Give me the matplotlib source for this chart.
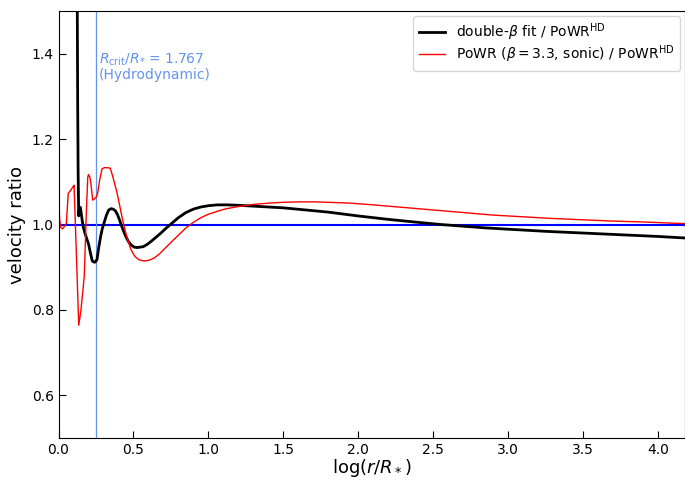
import numpy as np
import matplotlib
matplotlib.use("Agg")
import matplotlib.pyplot as plt

# ── data ───────────────────────────────────────────────────────────────────
logr_fit = [0.124, 0.126, 0.128, 0.131, 0.135, 0.140, 0.146, 0.152, 0.160, 0.168,
            0.178, 0.190, 0.200, 0.212, 0.225, 0.235, 0.245, 0.257, 0.268, 0.280,
            0.292, 0.305, 0.320, 0.335, 0.350, 0.365, 0.380, 0.395, 0.410, 0.425,
            0.445, 0.465, 0.485, 0.505, 0.525, 0.545, 0.565, 0.590, 0.620, 0.650,
            0.680, 0.720, 0.760, 0.800, 0.850, 0.900, 0.950, 1.00, 1.06, 1.12,
            1.20, 1.30, 1.40, 1.50, 1.65, 1.80, 2.00, 2.20, 2.40, 2.55,
            2.70, 2.85, 3.00, 3.25, 3.50, 3.75, 4.00, 4.20]
ratio_fit = [1.60, 1.45, 1.28, 1.12, 1.02, 1.04, 1.040, 1.025, 1.005, 0.990,
             0.978, 0.965, 0.955, 0.935, 0.915, 0.912, 0.912, 0.918, 0.945, 0.970,
             0.990, 1.005, 1.022, 1.034, 1.037, 1.036, 1.032, 1.022, 1.008, 0.993,
             0.975, 0.961, 0.952, 0.947, 0.946, 0.947, 0.948, 0.953, 0.961, 0.970,
             0.979, 0.992, 1.004, 1.016, 1.028, 1.036, 1.041, 1.044, 1.046, 1.046,
             1.045, 1.043, 1.041, 1.039, 1.034, 1.029, 1.020, 1.012, 1.005, 1.000,
             0.996, 0.992, 0.989, 0.984, 0.980, 0.976, 0.972, 0.968]

logr_sonic = [0.0, 0.008, 0.015, 0.025, 0.035, 0.045, 0.052, 0.065, 0.085, 0.100,
              0.104, 0.135, 0.150, 0.164, 0.172, 0.185, 0.195, 0.200, 0.208, 0.215,
              0.228, 0.240, 0.252, 0.262, 0.275, 0.290, 0.305, 0.325, 0.345, 0.360,
              0.375, 0.390, 0.405, 0.425, 0.445, 0.465, 0.485, 0.51, 0.535, 0.56,
              0.585, 0.61, 0.64, 0.67, 0.71, 0.75, 0.80, 0.85, 0.90, 0.95,
              1.00, 1.06, 1.12, 1.20, 1.30, 1.40, 1.50, 1.60, 1.70, 1.80,
              1.95, 2.10, 2.30, 2.50, 2.70, 2.90, 3.10, 3.30, 3.50, 3.70,
              3.90, 4.10, 4.20]
ratio_sonic = [1.068, 1.010, 0.994, 0.990, 0.993, 0.999, 1.002, 1.073, 1.082, 1.090,
               1.092, 0.764, 0.800, 0.850, 0.880, 1.020, 1.110, 1.117, 1.112, 1.100,
               1.057, 1.060, 1.064, 1.075, 1.105, 1.130, 1.133, 1.133, 1.132, 1.115,
               1.095, 1.075, 1.050, 1.015, 0.985, 0.960, 0.940, 0.925, 0.918, 0.915,
               0.915, 0.917, 0.922, 0.930, 0.944, 0.958, 0.975, 0.992, 1.005, 1.016,
               1.024, 1.031, 1.037, 1.042, 1.047, 1.050, 1.052, 1.053, 1.053, 1.052,
               1.050, 1.046, 1.040, 1.034, 1.028, 1.022, 1.018, 1.014, 1.011, 1.008,
               1.006, 1.003, 1.002]

R_crit = 1.767

# ── figure ─────────────────────────────────────────────────────────────────
fig = plt.figure(figsize=(6.85, 4.8), dpi=100)
ax = fig.add_axes([58.5 / 685, 42 / 480, (685 - 58.5) / 685, (438 - 11) / 480])

ax.axhline(1.0, color="blue", lw=1.5)
ax.axvline(np.log10(R_crit), color="cornflowerblue", lw=0.9)
ax.plot(logr_fit, ratio_fit, color="black", lw=2,
        label=r"double-$\beta$ fit / PoWR$^{\rm HD}$")
ax.plot(logr_sonic, ratio_sonic, color="red", lw=1,
        label=r"PoWR ($\beta = 3.3$, sonic) / PoWR$^{\rm HD}$")

ax.text(np.log10(R_crit) + 0.02, 1.405,
        r"$R_{\rm crit}/R_{*}$ = " + f"{R_crit:.3f}" + "\n(Hydrodynamic)",
        color="cornflowerblue", fontsize=10, va="top", ha="left",
        linespacing=1.0)

ax.set_xlim(0, 4.18)
ax.set_ylim(0.5, 1.5)
ax.set_yticks([0.6, 0.8, 1.0, 1.2, 1.4])
ax.tick_params(direction="in", length=5, labelsize=10)
ax.set_xlabel(r"$\log(r/R_*)$", fontsize=13, labelpad=0)
ax.set_ylabel("velocity ratio", fontsize=13)
ax.legend(loc="upper right", fontsize=10, labelspacing=0.05,
          borderaxespad=0.35, handlelength=1.9)

plt.savefig("out.png", dpi=100)
